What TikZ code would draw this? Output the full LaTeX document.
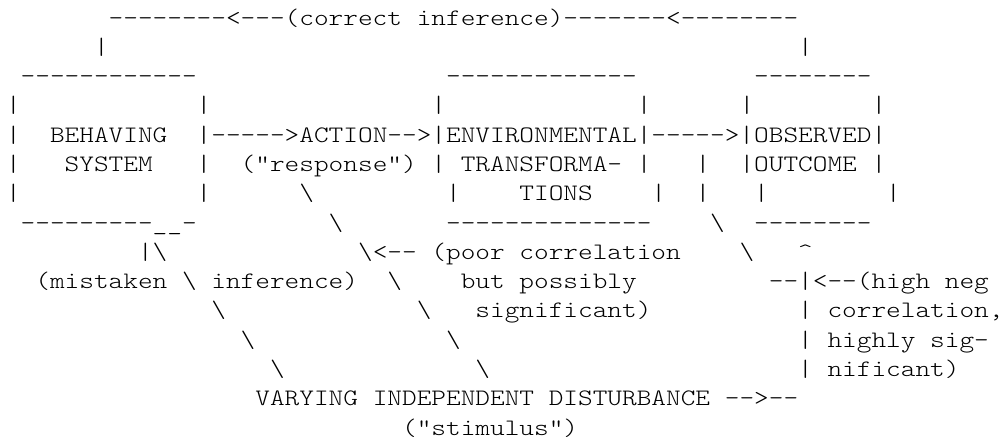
\documentclass[tikz,border=0pt]{standalone}
\usepackage{fontspec}
\setmonofont{lmmonolt10-regular.otf}
\usepackage{graphicx}

% character grid: one cell is 14.67 x 29.29 units, y grows downwards
\newcommand\cellw{14.67}
\newcommand\lineh{29.29}
\tikzset{
  glyphs/.style={anchor=base west, inner sep=0pt, outer sep=0pt,
                 font=\ttfamily\fontsize{11.8pt}{12pt}\selectfont},
}
% widen the monospaced run so that one character fills one cell
\newcommand\widerun[1]{\scalebox{1.184}[1]{#1}}
% \chrun{name}{column}{row}{text}
\newcommand\chrun[4]{\node[glyphs] (#1) at ({6+#2*\cellw},{25+#3*\lineh}) {\widerun{#4}};}
\newcommand\bsl{\textbackslash}

\begin{document}
\begin{tikzpicture}[x=0.5pt,y=-0.5pt]
\useasboundingbox (0,0) rectangle (1005,441);

% feedback path along the top
\chrun{top}{7}{0}{--------<---(correct inference)-------<--------}
\chrun{upL}{6}{1}{|}
\chrun{upR}{54}{1}{|}

% box tops
\chrun{boxAtop}{1}{2}{------------}
\chrun{boxBtop}{30}{2}{-------------}
\chrun{boxCtop}{51}{2}{--------}

\chrun{r3a}{0}{3}{|}
\chrun{r3b}{13}{3}{|}
\chrun{r3c}{29}{3}{|}
\chrun{r3d}{43}{3}{|}
\chrun{r3e}{50}{3}{|}
\chrun{r3f}{59}{3}{|}

\chrun{r4a}{0}{4}{|}
\chrun{behaving}{3}{4}{BEHAVING}
\chrun{chain}{13}{4}{|----->ACTION-->|ENVIRONMENTAL|----->|OBSERVED|}

\chrun{r5a}{0}{5}{|}
\chrun{system}{4}{5}{SYSTEM}
\chrun{r5b}{13}{5}{|}
\chrun{response}{16}{5}{("response")}
\chrun{r5c}{29}{5}{|}
\chrun{transforma}{31}{5}{TRANSFORMA-}
\chrun{r5d}{43}{5}{|}
\chrun{r5e}{47}{5}{|}
\chrun{outcome}{50}{5}{|OUTCOME}
\chrun{r5f}{59}{5}{|}

\chrun{r6a}{0}{6}{|}
\chrun{r6b}{13}{6}{|}
\chrun{r6c}{20}{6}{\bsl}
\chrun{r6d}{30}{6}{|}
\chrun{tions}{35}{6}{TIONS}
\chrun{r6e}{44}{6}{|}
\chrun{r6f}{47}{6}{|}
\chrun{r6g}{51}{6}{|}
\chrun{r6h}{60}{6}{|}

% box bottoms
\chrun{boxAbot}{1}{7}{---------\_\_-}
\chrun{r7a}{22}{7}{\bsl}
\chrun{boxBbot}{30}{7}{--------------}
\chrun{r7b}{48}{7}{\bsl}
\chrun{boxCbot}{51}{7}{--------}

\chrun{r8a}{9}{8}{|\bsl}
\chrun{r8b}{24}{8}{\bsl<--}
\chrun{poor}{29}{8}{(poor}
\chrun{corr}{35}{8}{correlation}
\chrun{r8c}{50}{8}{\bsl}
\chrun{r8d}{54}{8}{\textasciicircum}

\chrun{mistaken}{2}{9}{(mistaken}
\chrun{r9a}{12}{9}{\bsl}
\chrun{inference}{14}{9}{inference)}
\chrun{r9b}{26}{9}{\bsl}
\chrun{but}{31}{9}{but}
\chrun{possibly}{35}{9}{possibly}
\chrun{highneg}{52}{9}{--|<--(high}
\chrun{neg}{64}{9}{neg}

\chrun{r10a}{14}{10}{\bsl}
\chrun{r10b}{28}{10}{\bsl}
\chrun{signif}{32}{10}{significant)}
\chrun{r10c}{54}{10}{|}
\chrun{corr2}{56}{10}{correlation,}

\chrun{r11a}{16}{11}{\bsl}
\chrun{r11b}{30}{11}{\bsl}
\chrun{r11c}{54}{11}{|}
\chrun{highly}{56}{11}{highly}
\chrun{sig}{63}{11}{sig-}

\chrun{r12a}{18}{12}{\bsl}
\chrun{r12b}{32}{12}{\bsl}
\chrun{r12c}{54}{12}{|}
\chrun{nificant}{56}{12}{nificant)}

\chrun{varying}{17}{13}{VARYING}
\chrun{independent}{25}{13}{INDEPENDENT}
\chrun{disturbance}{37}{13}{DISTURBANCE}
\chrun{r13a}{49}{13}{-->--}
\chrun{stimulus}{27}{14}{("stimulus")}
\end{tikzpicture}
\end{document}
